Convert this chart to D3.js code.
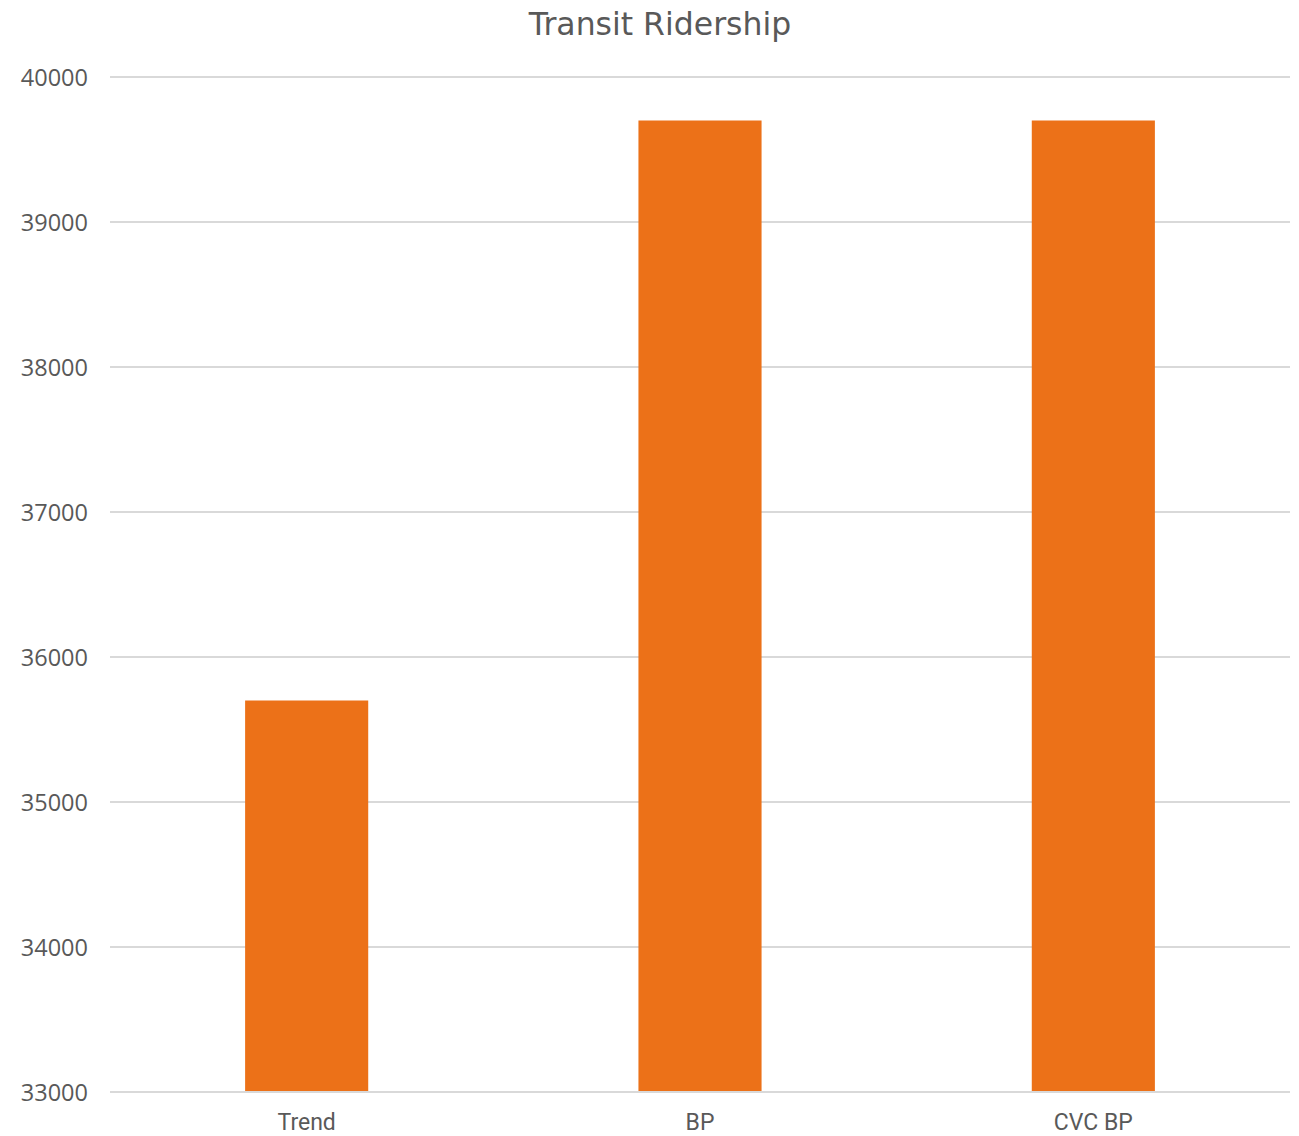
<!DOCTYPE html>
<html>
<head>
<meta charset="utf-8">
<script src="https://cdn.jsdelivr.net/npm/d3@7"></script>
<style>
  html, body { margin: 0; padding: 0; background: #fff; }
  svg { display: block; }
</style>
</head>
<body>
<svg id="chart" width="1299" height="1136"></svg>
<script>
// Transit ridership by scenario
const categories = ["Trend", "BP", "CVC BP"];
const ridership = [35700, 39700, 39700];
const yTicks = [33000, 34000, 35000, 36000, 37000, 38000, 39000, 40000];
const chartTitle = "Transit Ridership";

const W = 1299, H = 1136;
const margin = { top: 77, right: 9, bottom: 44, left: 110 };

const svg = d3.select("#chart");

const x = d3.scaleBand()
  .domain(categories)
  .range([margin.left, W - margin.right])
  .paddingInner(0)
  .paddingOuter(0);

const y = d3.scaleLinear()
  .domain([33000, 40000])
  .range([H - margin.bottom, margin.top]);

const barW = x.bandwidth() * 0.313;

// gridlines
svg.append("g")
  .selectAll("line")
  .data(yTicks)
  .join("line")
  .attr("x1", margin.left)
  .attr("x2", W - margin.right)
  .attr("y1", d => y(d))
  .attr("y2", d => y(d))
  .attr("stroke", "#d9d9d9")
  .attr("stroke-width", 2);

// bars
svg.append("g")
  .selectAll("rect")
  .data(categories.map((c, i) => ({ c, v: ridership[i] })))
  .join("rect")
  .attr("x", d => x(d.c) + (x.bandwidth() - barW) / 2)
  .attr("width", barW)
  .attr("y", d => y(d.v))
  .attr("height", d => y(33000) - y(d.v) - 1)
  .attr("fill", "#ec7118");

// y-axis labels
const yAxis = d3.axisLeft(y).tickValues(yTicks).tickFormat(d3.format("d")).tickSize(0).tickPadding(0);
const gy = svg.append("g")
  .attr("transform", `translate(${88},0)`)
  .call(yAxis);
gy.select(".domain").remove();
gy.selectAll("text")
  .attr("font-family", "'Open Sans', 'Noto Sans', sans-serif")
  .attr("font-size", 23.5)
  .attr("fill", "#595959")
  .attr("dy", "0.35em");

// x-axis labels
const xAxis = d3.axisBottom(x).tickSize(0).tickPadding(0);
const gx = svg.append("g")
  .attr("transform", `translate(0,${H - margin.bottom})`)
  .call(xAxis);
gx.select(".domain").remove();
gx.selectAll("text")
  .attr("font-family", "'Liberation Sans Narrow', 'Roboto', sans-serif")
  .attr("font-size", 23)
  .attr("fill", "#595959")
  .attr("dy", "0")
  .attr("y", 38);

// title
svg.append("text")
  .attr("x", 660)
  .attr("y", 35)
  .attr("text-anchor", "middle")
  .attr("font-family", "'DejaVu Sans', sans-serif")
  .attr("font-size", 31.5)
  .attr("fill", "#595959")
  .text(chartTitle);
</script>
</body>
</html>
